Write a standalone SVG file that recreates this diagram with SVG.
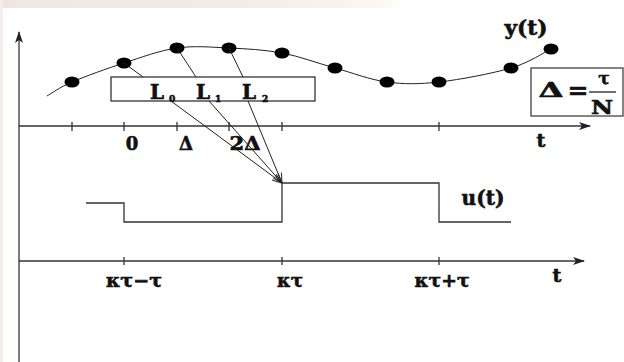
<svg xmlns="http://www.w3.org/2000/svg" width="624" height="362" viewBox="0 0 624 362">
<defs>
<linearGradient id="bg" x1="0" y1="0" x2="1" y2="0">
<stop offset="0" stop-color="#efe6e2"/>
<stop offset="0.4" stop-color="#f1ede6"/>
<stop offset="0.6" stop-color="#fbf7ee"/>
<stop offset="0.65" stop-color="#ffffff"/>
</linearGradient>
<marker id="ah" markerWidth="12" markerHeight="8" refX="11" refY="4" orient="auto" markerUnits="userSpaceOnUse">
<path d="M0,0 L12,4 L0,8 L3,4 Z" fill="#222"/>
</marker>
<marker id="ahs" markerWidth="10" markerHeight="8" refX="10" refY="4" orient="auto" markerUnits="userSpaceOnUse">
<path d="M0,0.5 L10,4 L0,7.5" fill="none" stroke="#222" stroke-width="1"/>
</marker>
</defs>
<style>
.ln{stroke:#333;stroke-width:1.3;fill:none}
.thin{stroke:#222;stroke-width:1;fill:none}
.dot{fill:#000}
.t{font-family:"DejaVu Serif","Liberation Serif",serif;font-weight:bold;fill:#111;stroke:#111;stroke-width:0.6}
</style>
<rect x="0" y="0" width="624" height="362" fill="#ffffff"/>
<rect x="0" y="0" width="624" height="8" fill="url(#bg)"/>
<rect x="0" y="0" width="3" height="362" fill="#f3eeea"/>

<g id="axes">
<line class="ln" x1="19" y1="362" x2="19" y2="32" marker-end="url(#ah)"/>
<line class="ln" x1="19" y1="126" x2="590" y2="126" marker-end="url(#ah)"/>
<line class="ln" x1="19" y1="261" x2="584" y2="261" marker-end="url(#ah)"/>
<g class="ln">
<line x1="72" y1="122" x2="72" y2="131"/>
<line x1="124" y1="122" x2="124" y2="131"/>
<line x1="177" y1="122" x2="177" y2="131"/>
<line x1="229" y1="122" x2="229" y2="131"/>
<line x1="282" y1="122" x2="282" y2="131"/>
<line x1="439" y1="122" x2="439" y2="131"/>
<line x1="124" y1="257" x2="124" y2="265"/>
<line x1="282" y1="257" x2="282" y2="265"/>
<line x1="439" y1="257" x2="439" y2="265"/>
</g>
<text class="t" x="132" y="150" font-size="18" text-anchor="middle">0</text>
<text class="t" x="186" y="150" font-size="18" text-anchor="middle">Δ</text>
<text class="t" x="245" y="150" font-size="18" text-anchor="middle" textLength="31" lengthAdjust="spacingAndGlyphs">2Δ</text>
<text class="t" x="541" y="147" font-size="19" text-anchor="middle">t</text>
<text class="t" x="134" y="287" font-size="18" text-anchor="middle" textLength="56" lengthAdjust="spacingAndGlyphs">κτ−τ</text>
<text class="t" x="290" y="287" font-size="18" text-anchor="middle" textLength="26" lengthAdjust="spacingAndGlyphs">κτ</text>
<text class="t" x="442" y="287" font-size="18" text-anchor="middle" textLength="55" lengthAdjust="spacingAndGlyphs">κτ+τ</text>
<text class="t" x="557" y="282" font-size="19" text-anchor="middle">t</text>
</g>

<g id="y-curve">
<path class="thin" d="M47,96 C51.2,93.7 59.2,87.5 72,82 C84.8,76.5 106.5,68.7 124,63 C141.5,57.3 159.5,50.5 177,48 C194.5,45.5 211.5,47.2 229,48 C246.5,48.8 264.3,49.7 282,53 C299.7,56.3 317.5,63.2 335,68 C352.5,72.8 369.7,79.7 387,82 C404.3,84.3 418.3,84.3 439,82 C459.7,79.7 492.3,73.5 511,68 C529.7,62.5 544.3,52.2 551,49"/>
<g class="dot">
<ellipse cx="72" cy="82" rx="7.5" ry="5.5"/>
<ellipse cx="124" cy="63" rx="7.5" ry="5.5"/>
<ellipse cx="177" cy="48" rx="7.5" ry="5.5"/>
<ellipse cx="229" cy="48" rx="7.5" ry="5.5"/>
<ellipse cx="282" cy="53" rx="7.5" ry="5.5"/>
<ellipse cx="335" cy="68" rx="7.5" ry="5.5"/>
<ellipse cx="387" cy="82" rx="7.5" ry="5.5"/>
<ellipse cx="439" cy="82" rx="7.5" ry="5.5"/>
<ellipse cx="511" cy="68" rx="7.5" ry="5.5"/>
<ellipse cx="551" cy="49" rx="7.5" ry="5.5"/>
</g>
<text class="t" x="526" y="35" font-size="20" text-anchor="middle" textLength="43" lengthAdjust="spacingAndGlyphs">y(t)</text>
</g>

<g id="filter-box">
<rect x="111" y="77" width="204" height="24" fill="#fff" stroke="#222" stroke-width="1.2"/>
<text class="t" x="150" y="99" font-size="20">L</text>
<text class="t" x="169" y="102" font-size="9" stroke-width="0.3">0</text>
<text class="t" x="196" y="99" font-size="20">L</text>
<text class="t" x="215" y="102" font-size="9" stroke-width="0.3">1</text>
<text class="t" x="242" y="99" font-size="20">L</text>
<text class="t" x="262" y="102" font-size="9" stroke-width="0.3">2</text>
</g>

<g id="delta-box">
<rect x="531" y="68" width="92" height="48" fill="#fff" stroke="#333" stroke-width="1.2"/>
<text class="t" x="551" y="97" font-size="20" text-anchor="middle" textLength="25" lengthAdjust="spacingAndGlyphs">Δ</text>
<text class="t" x="578" y="99" font-size="24" text-anchor="middle" textLength="21" lengthAdjust="spacingAndGlyphs">=</text>
<line x1="589" y1="92" x2="616" y2="92" stroke="#222" stroke-width="1.3"/>
<text class="t" x="604" y="84" font-size="17" text-anchor="middle">τ</text>
<text class="t" x="602" y="114" font-size="18" text-anchor="middle" textLength="22" lengthAdjust="spacingAndGlyphs">N</text>
</g>

<g id="u-signal">
<polyline class="ln" points="86,203 124,203 124,222 282,222 282,183 439,183 439,222 511,222"/>
<text class="t" x="483" y="205" font-size="20" text-anchor="middle" textLength="43" lengthAdjust="spacingAndGlyphs">u(t)</text>
</g>

<g id="connectors">
<line class="thin" x1="124" y1="63" x2="143" y2="77"/>
<line class="thin" x1="177" y1="48" x2="196" y2="77"/>
<line class="thin" x1="229" y1="48" x2="243" y2="77"/>
<line class="thin" x1="171" y1="101" x2="282" y2="183" marker-end="url(#ahs)"/>
<line class="thin" x1="209" y1="101" x2="282" y2="183" marker-end="url(#ahs)"/>
<line class="thin" x1="248" y1="101" x2="282" y2="183" marker-end="url(#ahs)"/>
</g>
</svg>
